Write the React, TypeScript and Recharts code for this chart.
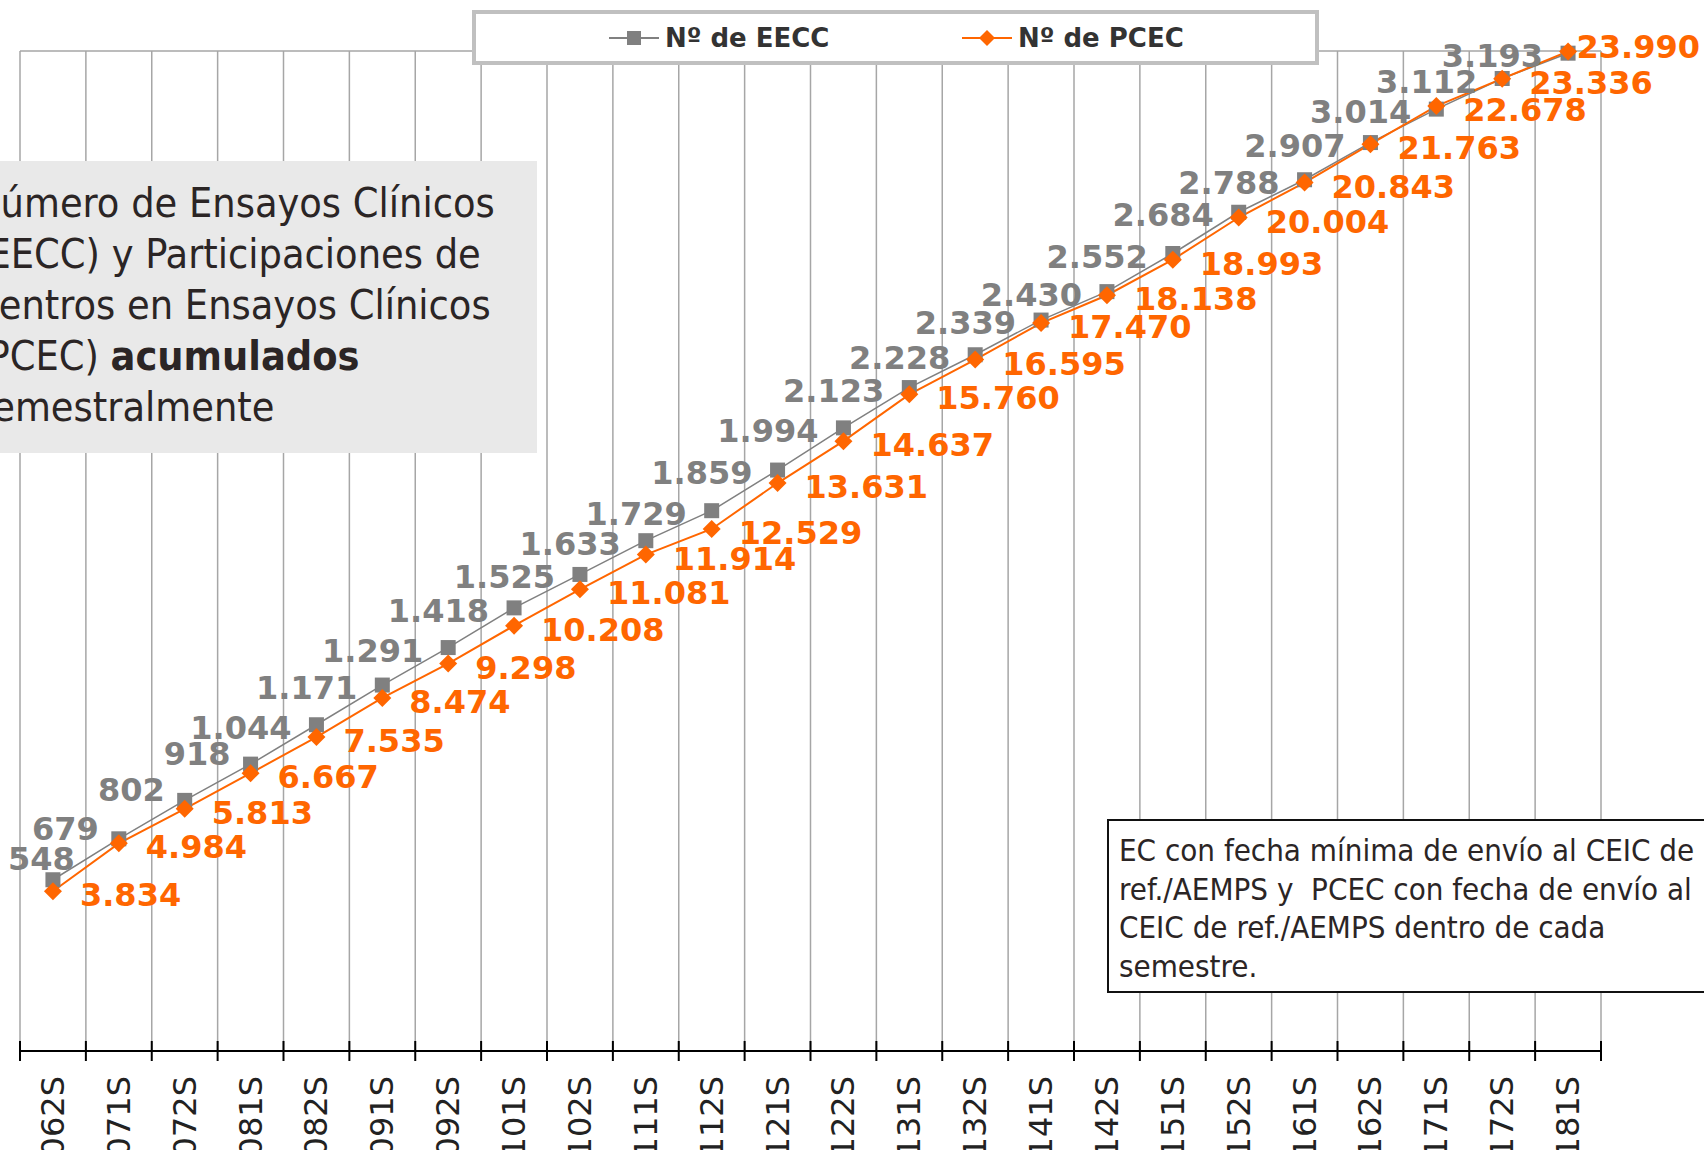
import React from "react"
import {
  CartesianGrid,
  LabelList,
  Legend,
  Line,
  LineChart,
  XAxis,
  YAxis,
} from "recharts"

const periods = [
  "062S", "071S", "072S", "081S", "082S", "091S", "092S", "101S",
  "102S", "111S", "112S", "121S", "122S", "131S", "132S", "141S",
  "142S", "151S", "152S", "161S", "162S", "171S", "172S", "181S",
]
const eecc = [
  548, 679, 802, 918, 1044, 1171, 1291, 1418, 1525, 1633, 1729, 1859,
  1994, 2123, 2228, 2339, 2430, 2552, 2684, 2788, 2907, 3014, 3112, 3193,
]
const pcec = [
  3834, 4984, 5813, 6667, 7535, 8474, 9298, 10208, 11081, 11914, 12529, 13631,
  14637, 15760, 16595, 17470, 18138, 18993, 20004, 20843, 21763, 22678, 23336, 23990,
]
const eeccDomain = [0, 3200]
const pcecDomain = [0, 24000]

const GRAY = "#808080"
const ORANGE = "#ff6600"
const TEXT = "#2b2525"
const LABEL_FONT = "'DejaVu Sans', Verdana, sans-serif"
const BOX_FONT = "'DejaVu Sans Condensed', 'Liberation Sans', sans-serif"
const LABEL_SIZE = 32
const PAGE_W = 1704
// gray labels in the crowded lower-left corner sit a little higher
const CROWDED = 4

// band edges for the grid, band centres for the points and labels
const edges = [...periods.map((_, i) => i), periods.length]
const centres = periods.map((_, i) => i + 0.5)
const data = periods.map((period, i) => ({
  period,
  x: i + 0.5,
  eecc: eecc[i],
  pcec: pcec[i],
}))

const fmt = (v: number) => String(v).replace(/\B(?=(\d{3})+(?!\d))/g, ".")

// rough width of a bold DejaVu number label
const labelWidth = (s: string) =>
  [...s].reduce((w, c) => w + (c === "." ? 0.38 : 0.696), 0) * LABEL_SIZE

const CrossTick = ({ x, y }: any) => (
  <line x1={x} x2={x} y1={y - 10} y2={y + 10} stroke="#000" strokeWidth={2} />
)

const PeriodTick = ({ x, y, payload }: any) => (
  <text
    x={x}
    y={y}
    transform={`rotate(-90 ${x} ${y})`}
    textAnchor="end"
    dominantBaseline="central"
    fontFamily={LABEL_FONT}
    fontSize={32}
    fill="#222"
  >
    {periods[Math.floor(payload.value)]}
  </text>
)

const SquareDot = ({ cx, cy }: any) =>
  cx == null ? null : <rect x={cx - 7.5} y={cy - 7.5} width={15} height={15} fill={GRAY} />

const DiamondDot = ({ cx, cy }: any) =>
  cx == null ? null : (
    <path d={`M${cx},${cy - 9}L${cx + 9},${cy}L${cx},${cy + 9}L${cx - 9},${cy}Z`} fill={ORANGE} />
  )

const pos = (p: any) => ({
  x: Number(p.x ?? p.viewBox?.x),
  y: Number(p.y ?? p.viewBox?.y),
})

const GrayLabel = (p: any) => {
  const { x, y } = pos(p)
  const s = fmt(p.value)
  const w = labelWidth(s)
  let right = x - 25
  let base = y + 14
  if (p.index < CROWDED) {
    right = x - 20
    base = y + 1
  }
  // no room on the left: lift the label above the marker
  if (right - w < 8) {
    right = 8 + w
    base = y - 10
  }
  return (
    <text x={right} y={base} textAnchor="end" fontFamily={LABEL_FONT} fontWeight="bold" fontSize={LABEL_SIZE} fill={GRAY}>
      {s}
    </text>
  )
}

const OrangeLabel = (p: any) => {
  const { x, y } = pos(p)
  const s = fmt(p.value)
  const w = labelWidth(s)
  let left = x + 27
  let base = y + 15
  // keep the last label inside the page
  if (left + w > PAGE_W - 4) {
    left = PAGE_W - 4 - w
    base = y + 7
  }
  return (
    <text x={left} y={base} textAnchor="start" fontFamily={LABEL_FONT} fontWeight="bold" fontSize={LABEL_SIZE} fill={ORANGE}>
      {s}
    </text>
  )
}

const LegendBox = ({ payload }: any) => (
  <div
    style={{
      width: 847,
      height: 55,
      boxSizing: "border-box",
      border: "4px solid #c0c0c0",
      background: "#fff",
      display: "flex",
      alignItems: "center",
      paddingLeft: 133,
    }}
  >
    {(payload ?? []).map((entry: any, i: number) => (
      <div key={entry.value} style={{ width: 357, display: "flex", alignItems: "center" }}>
        <svg width={50} height={20}>
          <line x1={0} x2={50} y1={10} y2={10} stroke={entry.color} strokeWidth={2} />
          {i === 0 ? (
            <rect x={18} y={3} width={14} height={14} fill={GRAY} />
          ) : (
            <path d="M25,2L33,10L25,18L17,10Z" fill={ORANGE} />
          )}
        </svg>
        <span
          style={{
            marginLeft: 6,
            fontFamily: LABEL_FONT,
            fontWeight: "bold",
            fontSize: 26,
            color: "#333",
          }}
        >
          {entry.value}
        </span>
      </div>
    ))}
  </div>
)

export default function App() {
  return (
    <div
      style={{
        position: "fixed",
        left: 0,
        top: 0,
        width: PAGE_W,
        height: 1150,
        overflow: "hidden",
        background: "#fff",
      }}
    >
      <LineChart
        width={PAGE_W}
        height={1150}
        data={data}
        margin={{ top: 51, right: 103, left: 20, bottom: 0 }}
      >
        <CartesianGrid
          xAxisId="grid"
          yAxisId="left"
          stroke="#a6a6a6"
          strokeWidth={1.5}
        />
        <XAxis
          xAxisId="grid"
          type="number"
          dataKey="x"
          domain={[0, periods.length]}
          ticks={edges}
          interval={0}
          height={25}
          axisLine={{ stroke: "#000", strokeWidth: 2 }}
          tickLine={false}
          tickSize={0}
          tickMargin={0}
          tick={<CrossTick />}
        />
        <XAxis
          xAxisId="lab"
          type="number"
          dataKey="x"
          domain={[0, periods.length]}
          ticks={centres}
          interval={0}
          height={74}
          axisLine={false}
          tickLine={false}
          tickSize={0}
          tickMargin={0}
          tick={<PeriodTick />}
        />
        <YAxis yAxisId="left" domain={eeccDomain} ticks={eeccDomain} hide />
        <YAxis yAxisId="right" orientation="right" domain={pcecDomain} hide />
        <Legend
          layout="horizontal"
          verticalAlign="middle"
          align="center"
          content={<LegendBox />}
          wrapperStyle={{ top: 10, left: 472, width: 847, height: 55 }}
        />
        <Line
          xAxisId="grid"
          yAxisId="left"
          dataKey="eecc"
          name="Nº de EECC"
          stroke={GRAY}
          strokeWidth={1.5}
          dot={<SquareDot />}
          activeDot={false}
          isAnimationActive={false}
        >
          <LabelList dataKey="eecc" content={<GrayLabel />} />
        </Line>
        <Line
          xAxisId="grid"
          yAxisId="right"
          dataKey="pcec"
          name="Nº de PCEC"
          stroke={ORANGE}
          strokeWidth={2}
          dot={<DiamondDot />}
          activeDot={false}
          isAnimationActive={false}
        >
          <LabelList dataKey="pcec" content={<OrangeLabel />} />
        </Line>
      </LineChart>

      <div
        style={{
          position: "absolute",
          left: -60,
          top: 161,
          width: 597,
          height: 292,
          boxSizing: "border-box",
          background: "#e9e9e9",
          paddingLeft: 33,
          paddingTop: 17,
          fontFamily: BOX_FONT,
          fontSize: 41,
          lineHeight: "51px",
          color: TEXT,
          whiteSpace: "pre",
        }}
      >
        {"Número de Ensayos Clínicos\n(EECC) y Participaciones de\nCentros en Ensayos Clínicos\n(PCEC) "}
        <b>acumulados</b>
        {"\nsemestralmente"}
      </div>

      <div
        style={{
          position: "absolute",
          left: 1107,
          top: 819,
          width: 700,
          height: 174,
          boxSizing: "border-box",
          border: "2px solid #111",
          background: "#fff",
          paddingLeft: 10,
          paddingTop: 10,
          fontFamily: BOX_FONT,
          fontSize: 31,
          lineHeight: "38.5px",
          color: TEXT,
          whiteSpace: "pre",
        }}
      >
        {"EC con fecha mínima de envío al CEIC de\nref./AEMPS y  PCEC con fecha de envío al\nCEIC de ref./AEMPS dentro de cada\nsemestre."}
      </div>
    </div>
  )
}
